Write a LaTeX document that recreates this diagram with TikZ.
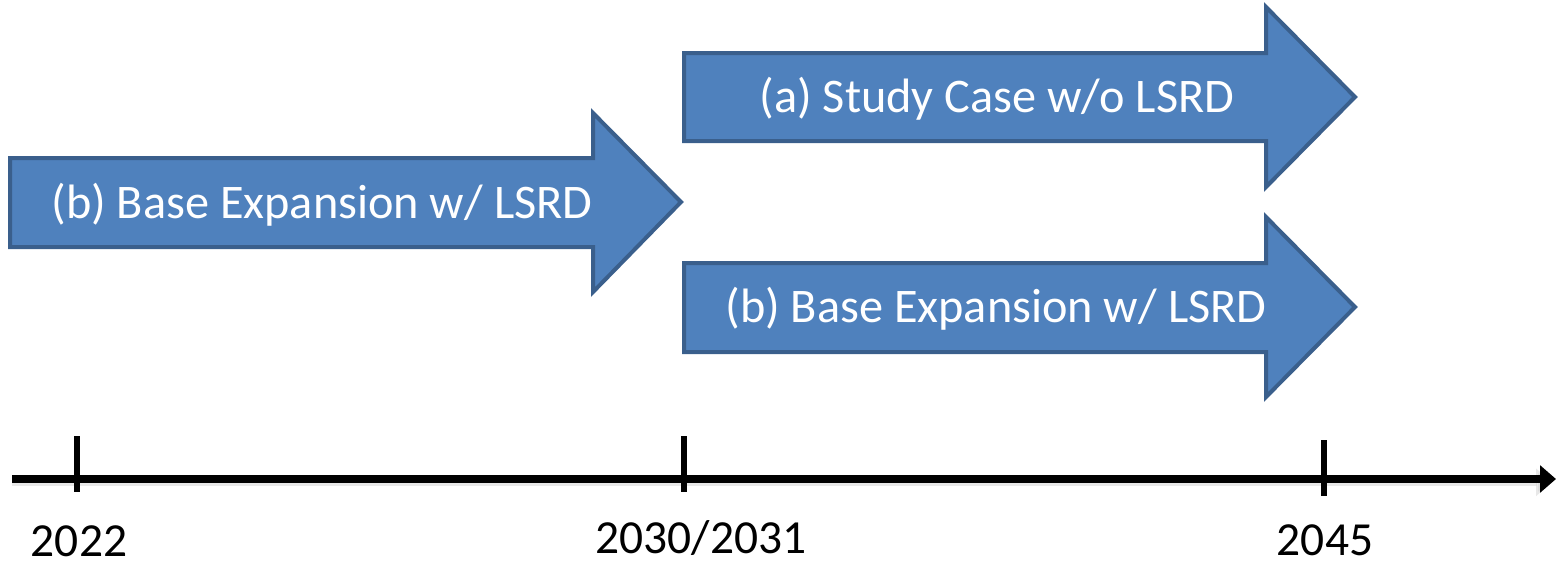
\documentclass[tikz,border=0pt]{standalone}
\usepackage{fontspec}
\setmainfont{Carlito}
\usetikzlibrary{arrows.meta}
\definecolor{arrfill}{HTML}{4F81BD}
\definecolor{arrdraw}{HTML}{3A5F8C}
\tikzset{
  bigarrow/.style={fill=arrfill, draw=arrdraw, line width=3pt, line join=miter},
  arrtext/.style={text=white, font=\fontsize{36.2}{42}\selectfont, inner sep=0pt, anchor=center},
  yeartext/.style={text=black, font=\fontsize{35.6}{42}\selectfont, inner sep=0pt, anchor=center},
  tick/.style={line width=4pt},
}
\begin{document}
\begin{tikzpicture}[x=0.75pt,y=-0.75pt]
\useasboundingbox (0,0) rectangle (1556,562);
% left arrow
\draw[bigarrow] (10,158) -- (593,158) -- (593,113) -- (681,202) -- (593,292) -- (593,247) -- (10,247) -- cycle;
\node[arrtext] (b1) at (322,205) {(b) Base Expansion w/ LSRD};
% top right arrow
\draw[bigarrow] (684,53) -- (1266,53) -- (1266,7) -- (1355,97) -- (1266,187) -- (1266,141) -- (684,141) -- cycle;
\node[arrtext] (a2) at (997,99) {(a) Study Case w/o LSRD};
% bottom right arrow
\draw[bigarrow] (684,263) -- (1266,263) -- (1266,217) -- (1355,307) -- (1266,397) -- (1266,352) -- (684,352) -- cycle;
\node[arrtext] (b2) at (996,309) {(b) Base Expansion w/ LSRD};
% axis
\coordinate (axs) at (12,479);
\coordinate (axe) at (1556,479);
\draw[line width=6pt, -{Triangle[length=12pt,width=20pt]}, gray!35, opacity=0.5] ([yshift=-2.5pt]axs) -- ([yshift=-2.5pt,xshift=-3pt]axe);
\draw[line width=6pt, -{Triangle[length=12pt,width=20pt]}] (axs) -- (axe);
\coordinate (t1a) at (77,436); \coordinate (t1b) at (77,492);
\coordinate (t2a) at (684,436); \coordinate (t2b) at (684,492);
\coordinate (t3a) at (1324,440); \coordinate (t3b) at (1324,496);
\draw[tick] (t1a) -- (t1b);
\draw[tick] (t2a) -- (t2b);
\draw[tick] (t3a) -- (t3b);
\node[yeartext] (y1) at (79,541) {2022};
\node[yeartext] (y2) at (701,538) {2030/2031};
\node[yeartext] (y3) at (1325,540) {2045};
\end{tikzpicture}
\end{document}
